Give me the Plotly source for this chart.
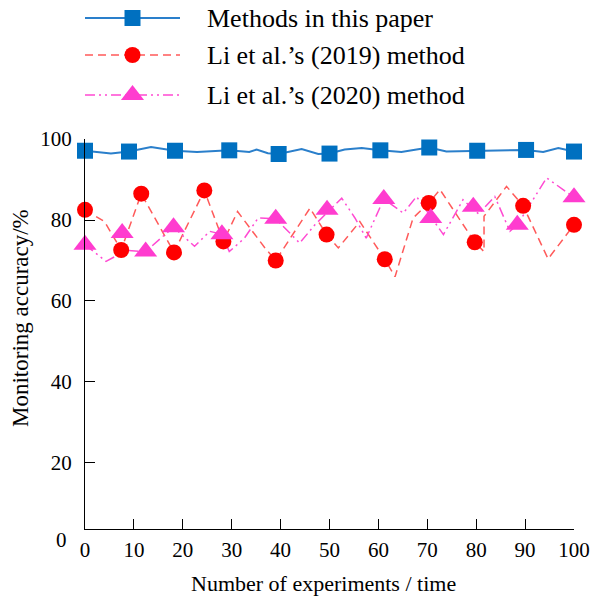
import plotly.graph_objects as go

# ---- data ----
x_ticks = [0, 10, 20, 30, 40, 50, 60, 70, 80, 90, 100]
y_ticks = [20, 40, 60, 80, 100]

series_names = ["Methods in this paper", "Li et al.’s (2019) method", "Li et al.’s (2020) method"]

blue_marker_x = [0, 9, 18.4, 29.5, 39.6, 50, 60.4, 70.4, 80.2, 90.2, 100]
blue_marker_y = [97.1, 96.9, 97.1, 97.2, 96.3, 96.4, 97.2, 97.9, 97.1, 97.3, 96.9]
blue_line_x = [0, 5.3, 9, 13.5, 18.4, 22.9, 29.5, 33.6, 35.1, 37.4, 39.6, 44.3, 47.7, 50,
               53.1, 56.6, 60.4, 64.7, 67.8, 70.4, 73.9, 80.2, 90.2, 93.7, 96.8, 100]
blue_line_y = [97.1, 96.4, 96.9, 98.0, 97.1, 96.8, 97.2, 96.8, 97.4, 96.5, 96.3, 97.5, 96.3, 96.4,
               97.4, 97.8, 97.2, 96.8, 97.4, 97.9, 96.9, 97.1, 97.3, 96.8, 97.8, 96.9]

red_marker_x = [0, 7.4, 11.5, 18.2, 24.4, 28.3, 39.0, 49.4, 61.3, 70.3, 79.7, 89.6, 100]
red_marker_y = [82.5, 72.6, 86.5, 72.0, 87.3, 74.7, 70.0, 76.4, 70.3, 84.2, 74.5, 83.5, 78.8]
red_line_x = [0, 4.0, 7.4, 11.5, 18.2, 24.4, 28.3, 31.2, 36.8, 39.0, 46.0, 49.4, 51.8, 56.2,
              61.3, 63.4, 67.1, 70.3, 72.6, 79.7, 81.6, 81.6, 86.2, 89.6, 94.7, 100]
red_line_y = [82.5, 79.6, 72.6, 86.5, 72.0, 87.3, 74.7, 82.1, 73.1, 70.0, 82.9, 76.4, 73.1, 79.6,
              70.3, 66.0, 80.5, 84.2, 87.5, 74.5, 72.2, 80.9, 88.3, 83.5, 70.4, 78.8]

pink_marker_x = [0, 7.6, 12.4, 18.1, 28.0, 39.0, 49.5, 61.1, 70.7, 79.4, 88.4, 100]
pink_marker_y = [73.9, 76.8, 72.2, 78.2, 76.5, 80.3, 82.5, 85.2, 80.5, 83.3, 78.8, 85.6]
pink_line_x = [0, 4.3, 8.5, 12.4, 15.5, 18.1, 22.4, 25.5, 28.0, 29.5, 32.6, 35.4, 39.0, 41.5,
               43.9, 47.0, 52.5, 55.2, 57.5, 61.1, 65.1, 67.8, 73.3, 77.3, 80.5, 83.8, 86.9,
               88.4, 94.4, 100]
pink_line_y = [73.9, 69.8, 72.5, 72.2, 75.5, 78.2, 73.5, 77.2, 76.5, 72.2, 75.5, 80.5, 80.3, 77.2,
               74.3, 78.8, 85.4, 80.5, 75.5, 85.2, 81.7, 85.8, 76.4, 85.0, 81.5, 85.8, 77.2,
               78.8, 90.4, 85.6]

# ---- styles ----
FONT = "Liberation Serif"
FS_TICK = 21
FS_LEG = 26
FS_XT = 22
FS_YT = 23
BLUE_M, BLUE_L = "#0070C0", "#2A7FCB"
RED_M, RED_L = "#FF0000", "#FF5A5A"
PINK_M, PINK_L = "#FF3CCF", "#FF4AD2"
RED_DASH = "8px,5px"
PINK_DASH = "10px,4px,2px,4px,2px,4px"

styles = [
    dict(lc=BLUE_L, mc=BLUE_M, dash="solid", sym="square", size=16, lw=2),
    dict(lc=RED_L, mc=RED_M, dash=RED_DASH, sym="circle", size=16, lw=1.5),
    dict(lc=PINK_L, mc=PINK_M, dash=PINK_DASH, sym="triangle-up", size=20, lw=1.5),
]
lines = [(blue_line_x, blue_line_y), (red_line_x, red_line_y), (pink_line_x, pink_line_y)]
marks = [(blue_marker_x, blue_marker_y), (red_marker_x, red_marker_y), (pink_marker_x, pink_marker_y)]

fig = go.Figure()
for i in [1, 2, 0]:
    s = styles[i]
    fig.add_trace(go.Scatter(x=lines[i][0], y=lines[i][1], mode="lines",
                             line=dict(color=s["lc"], width=s["lw"], dash=s["dash"]),
                             showlegend=False, cliponaxis=False, hoverinfo="skip"))
for i in [1, 2, 0]:
    s = styles[i]
    fig.add_trace(go.Scatter(x=marks[i][0], y=marks[i][1], mode="markers", name=series_names[i],
                             marker=dict(symbol=s["sym"], size=s["size"], color=s["mc"]),
                             showlegend=False, cliponaxis=False))

# ---- custom legend on an auxiliary hidden axis (long sample lines like the reference) ----
legend_rows = [18, 55, 95]  # pixel rows from top
for i in range(3):
    s = styles[i]
    fig.add_trace(go.Scatter(x=[0, 1], y=[legend_rows[i]] * 2, mode="lines", xaxis="x2", yaxis="y2",
                             line=dict(color=s["lc"], width=s["lw"], dash=s["dash"]),
                             showlegend=False, hoverinfo="skip", cliponaxis=False))
    fig.add_trace(go.Scatter(x=[0.5], y=[legend_rows[i]], mode="markers", xaxis="x2", yaxis="y2",
                             marker=dict(symbol=s["sym"], size=s["size"], color=s["mc"]),
                             showlegend=False, hoverinfo="skip", cliponaxis=False))

W, H = 594, 598
L, R, T, B = 85, 20, 0, 69
plot_h = H - T - B
top_px = 139
ydom_top = (H - B - top_px) / plot_h
leg_bottom_px = 120
y2dom_bottom = (H - B - leg_bottom_px) / plot_h
plot_w = W - L - R

def px_x(p):
    return (p - L) / plot_w

def px_y(p):
    return (H - B - p) / plot_h

annotations = []
for i in range(3):
    annotations.append(dict(x=px_x(205), y=legend_rows[i], xref="paper", yref="y2",
                            text=series_names[i], showarrow=False, xanchor="left", yanchor="middle",
                            font=dict(family=FONT, size=FS_LEG, color="black")))
annotations.append(dict(x=px_x(61.5), y=px_y(540), xref="paper", yref="paper",
                        text="0", showarrow=False, xanchor="center", yanchor="middle",
                        font=dict(family=FONT, size=FS_TICK, color="black")))
annotations.append(dict(x=px_x(323), y=px_y(584), xref="paper", yref="paper",
                        text="Number of experiments / time", showarrow=False, xanchor="center",
                        yanchor="middle", font=dict(family=FONT, size=FS_XT, color="black")))
annotations.append(dict(x=px_x(20), y=px_y(318), xref="paper", yref="paper",
                        text="Monitoring accuracy/%", showarrow=False, textangle=-90,
                        xanchor="center", yanchor="middle", font=dict(family=FONT, size=FS_YT, color="black")))

fig.update_layout(
    width=W, height=H,
    margin=dict(l=L, r=R, t=T, b=B, pad=0, autoexpand=False),
    paper_bgcolor="white", plot_bgcolor="white",
    font=dict(family=FONT, size=FS_TICK, color="black"),
    showlegend=False,
    annotations=annotations,
    xaxis=dict(range=[0, 100], tickvals=x_ticks, ticktext=[str(v) for v in x_ticks],
               ticks="inside", ticklen=10, tickwidth=1, tickcolor="black",
               showline=True, linecolor="black", linewidth=1.3, showgrid=False, zeroline=False,
               ticklabelstandoff=2, anchor="y", domain=[0, 1], automargin=False),
    yaxis=dict(range=[3.7, 100], tickvals=y_ticks, ticktext=[str(v) for v in y_ticks],
               ticks="inside", ticklen=10, tickwidth=1, tickcolor="black",
               showline=True, linecolor="black", linewidth=1.3, showgrid=False, zeroline=False,
               ticklabelstandoff=8, anchor="x", domain=[0, ydom_top], automargin=False),
    xaxis2=dict(domain=[0, 95 / plot_w], range=[0, 1], visible=False, anchor="y2", automargin=False),
    yaxis2=dict(domain=[y2dom_bottom, 1], range=[leg_bottom_px, T], visible=False, anchor="x2",
                automargin=False),
)

fig.write_html("out.html", config={"displayModeBar": False},
               post_script="document.body.style.margin='0';document.body.style.overflow='hidden';")
